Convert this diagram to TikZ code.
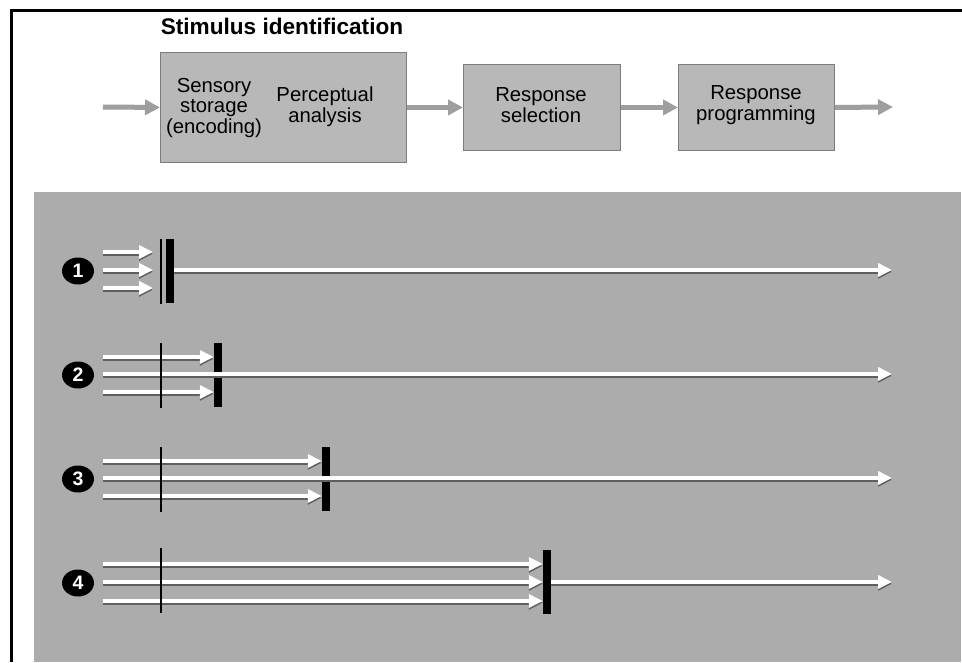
\documentclass[tikz,border=0pt]{standalone}
\usepackage{fontspec}
\setmainfont{Liberation Sans}
\usetikzlibrary{arrows.meta,shapes.geometric}

\definecolor{panelgray}{RGB}{172,172,172}
\definecolor{boxgray}{RGB}{184,184,184}
\definecolor{boxedge}{RGB}{125,125,125}
\definecolor{flowgray}{RGB}{158,158,158}
\definecolor{shadowgray}{RGB}{95,95,95}

\begin{document}
\begin{tikzpicture}[x=1pt,y=-1pt,
  stagebox/.style={rectangle, fill=boxgray, draw=boxedge, line width=0.9pt,
    inner sep=0pt, anchor=north west},
  stagetext/.style={align=center, inner sep=0pt,
    font=\fontsize{20.3}{20.8}\selectfont},
  flow/.style={draw=flowgray, line width=5pt,
    -{Triangle[length=15pt,width=15pt]}},
  timeline/.style={draw=white, line width=3.8pt,
    preaction={draw=shadowgray, line width=3.8pt,
      transform canvas={yshift=-1.8pt}}},
  timearrow/.style={timeline, -{Triangle[length=14pt,width=13pt]}},
  numdot/.style={ellipse, fill=black, text=white, inner sep=0pt,
    minimum width=32pt, minimum height=27pt,
    font=\bfseries\fontsize{19.5}{19.5}\selectfont},
  gate/.style={rectangle, fill=black, inner sep=0pt,
    minimum width=8pt, minimum height=64pt},
  marker/.style={rectangle, fill=black, inner sep=0pt,
    minimum width=1.5pt, minimum height=65pt}
]
\useasboundingbox (0,0) rectangle (962,662);
\fill[white] (0,0) rectangle (962,662);

% page frame (top and left rules)
\draw[line width=3pt] (11.5,662) -- (11.5,10.7) -- (962,10.7);

% ---------- processing stages ----------
\node[font=\bfseries\fontsize{22.6}{24}\selectfont] (title) at (282,26)
  {Stimulus identification};

\node[stagebox, minimum width=246pt, minimum height=110pt] (stim) at (160,52) {};
\node[stagebox, minimum width=157pt, minimum height=86pt] (sel) at (463,64) {};
\node[stagebox, minimum width=156pt, minimum height=86pt] (prog) at (678,64) {};

\node[stagetext] (sens) at (214,108) {Sensory\\storage\\(encoding)};
\node[stagetext] (perc) at (325,107) {Perceptual\\analysis};
\node[stagetext] (seltext) at (541,105) {Response\\selection};
\node[stagetext] (progtext) at (756,105) {Response\\programming};

\coordinate (inflow) at (103,107);
\coordinate (outflow) at (893,107);
\draw[flow] (inflow) -- (stim.west);
\draw[flow] (stim.east) -- (sel.west);
\draw[flow] (sel.east) -- (prog.west);
\draw[flow] (prog.east) -- (outflow);

% ---------- timing panel ----------
\fill[panelgray] (34,192) rectangle (961,662);

% case 1
\node[numdot] (n1) at (78,271) {1};
\coordinate (s1a) at (103,252);
\coordinate (s1b) at (103,270);
\coordinate (s1c) at (103,288);
\coordinate (e1) at (892,270);
\node[marker] (m1) at (161,271) {};
\node[gate] (g1) at (170,271) {};
\draw[timearrow, shorten >=7pt] (s1a) -- (m1.west |- s1a);
\draw[timearrow, shorten >=7pt] (s1b) -- (m1.west |- s1b);
\draw[timearrow, shorten >=7pt] (s1c) -- (m1.west |- s1c);
\draw[timearrow] (g1.east |- e1) -- (e1);

% case 2
\node[numdot] (n2) at (78,375) {2};
\coordinate (s2a) at (103,357);
\coordinate (s2b) at (103,374);
\coordinate (s2c) at (103,392);
\coordinate (e2) at (892,374);
\node[gate] (g2) at (218,375) {};
\draw[timearrow] (s2a) -- (g2.west |- s2a);
\draw[timearrow] (s2c) -- (g2.west |- s2c);
\draw[timearrow] (s2b) -- (e2);
\node[marker] (m2) at (161,375) {};

% case 3
\node[numdot] (n3) at (78,479) {3};
\coordinate (s3a) at (103,461);
\coordinate (s3b) at (103,478);
\coordinate (s3c) at (103,496);
\coordinate (e3) at (892,478);
\node[gate] (g3) at (326,479) {};
\draw[timearrow] (s3a) -- (g3.west |- s3a);
\draw[timearrow] (s3c) -- (g3.west |- s3c);
\draw[timearrow] (s3b) -- (e3);
\node[marker] (m3) at (161,479) {};

% case 4
\node[numdot] (n4) at (78,583) {4};
\coordinate (s4a) at (103,564);
\coordinate (s4b) at (103,582);
\coordinate (s4c) at (103,601);
\coordinate (e4) at (892,582);
\node[gate] (g4) at (547,582) {};
\draw[timearrow] (s4a) -- (g4.west |- s4a);
\draw[timearrow] (s4b) -- (g4.west |- s4b);
\draw[timearrow] (s4c) -- (g4.west |- s4c);
\draw[timearrow] (g4.east |- e4) -- (e4);
\node[marker] (m4) at (161,580) {};
\end{tikzpicture}
\end{document}
